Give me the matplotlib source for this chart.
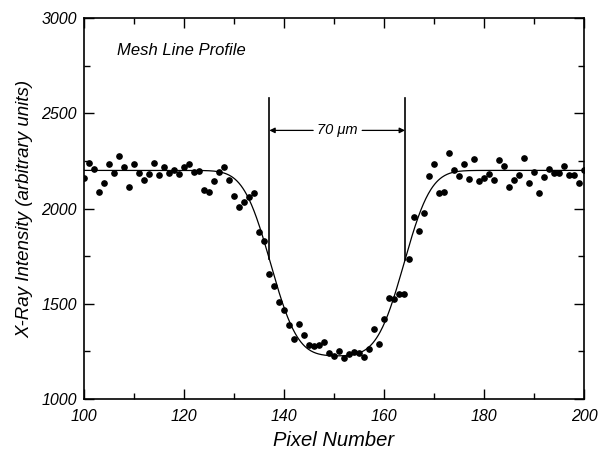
import math
import numpy as np
import matplotlib
matplotlib.use('Agg')
import matplotlib.pyplot as plt
from matplotlib.ticker import MultipleLocator

plt.rcParams['font.family'] = ['Liberation Sans', 'DejaVu Sans']
plt.rcParams['font.style'] = 'italic'

# measured profile, one point per pixel
pixel = list(range(100, 201))
intensity = [
    2160, 2240, 2208, 2086, 2133, 2236, 2186, 2275, 2220, 2112,
    2233, 2186, 2150, 2180, 2240, 2177, 2219, 2186, 2203, 2182,
    2220, 2233, 2189, 2199, 2098, 2086, 2147, 2191, 2217, 2150,
    2067, 2009, 2035, 2058, 2079, 1876, 1830, 1656, 1593, 1507,
    1465, 1386, 1315, 1395, 1335, 1281, 1276, 1281, 1300, 1242,
    1224, 1254, 1213, 1236, 1249, 1242, 1220, 1263, 1367, 1289,
    1420, 1529, 1527, 1551, 1551, 1735, 1955, 1881, 1977, 2171,
    2233, 2084, 2087, 2290, 2200, 2171, 2236, 2157, 2258, 2146,
    2159, 2182, 2148, 2255, 2224, 2112, 2150, 2177, 2265, 2136,
    2191, 2082, 2165, 2207, 2186, 2186, 2224, 2177, 2177, 2136,
    2203,
]

# fitted edge profile (rectangle blurred by a gaussian)
fit_top = 2200
fit_bottom = 1225
fit_left = 137.3
fit_right = 164.0
fit_sigma = 6.0

# mesh line width marker
edge_left = 137.06
edge_right = 164.2
marker_top = 2580
arrow_y = 2410


def fit_curve(x):
    return np.array([fit_top - (fit_top - fit_bottom) * 0.5 *
                     (math.erf((v - fit_left) / fit_sigma) - math.erf((v - fit_right) / fit_sigma))
                     for v in x])


fig = plt.figure(figsize=(5.98, 4.58), dpi=100)
ax = fig.add_axes([0.1405, 0.1288, 0.8361, 0.8319])

xs = np.linspace(100, 200, 801)
ax.plot(xs, fit_curve(xs), color='black', lw=0.9)
ax.plot(pixel, intensity, 'o', color='black', ms=3.8, mec='black')

# vertical edge lines down to the fit curve
for xe in (edge_left, edge_right):
    ax.plot([xe, xe], [marker_top, fit_curve([xe])[0]], color='black', lw=1.2)

mid = (edge_left + edge_right) / 2
ax.text(mid, arrow_y, '70 \u03bcm', ha='center', va='center', fontsize=10.5)
ax.annotate('', xy=(edge_left, arrow_y), xytext=(mid - 4.8, arrow_y),
            arrowprops=dict(arrowstyle='-|>', color='black', lw=0.9,
                            mutation_scale=8, shrinkA=0, shrinkB=0))
ax.annotate('', xy=(edge_right, arrow_y), xytext=(mid + 5.0, arrow_y),
            arrowprops=dict(arrowstyle='-|>', color='black', lw=0.9,
                            mutation_scale=8, shrinkA=0, shrinkB=0))

ax.text(106.6, 2830, 'Mesh Line Profile', fontsize=12, va='center')

ax.set_xlim(100, 200)
ax.set_ylim(1000, 3000)
ax.xaxis.set_major_locator(MultipleLocator(20))
ax.xaxis.set_minor_locator(MultipleLocator(10))
ax.yaxis.set_major_locator(MultipleLocator(500))
ax.yaxis.set_minor_locator(MultipleLocator(250))

ax.tick_params(which='both', direction='in', top=True, right=True,
               labelsize=11.5, width=1.0)
ax.tick_params(which='major', length=7)
ax.tick_params(which='minor', length=4.5)
ax.tick_params(axis='x', pad=7)
ax.tick_params(axis='y', pad=5)
for s in ax.spines.values():
    s.set_linewidth(1.2)

ax.set_xlabel('Pixel Number', fontsize=14.5, labelpad=5)
ax.set_ylabel('X-Ray Intensity (arbitrary units)', fontsize=13.5, labelpad=6)

fig.savefig('out.png', dpi=100)
